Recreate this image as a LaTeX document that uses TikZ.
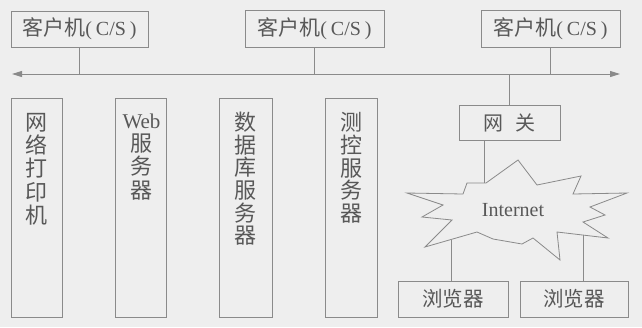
\documentclass[tikz,border=0pt]{standalone}
\usepackage{fontspec}
\setmainfont{Liberation Serif}
\newfontfamily\cjk{Noto Sans CJK SC}
\usetikzlibrary{arrows.meta}
\definecolor{bg}{HTML}{EEEEEE}
\definecolor{ln}{HTML}{8A8A8A}
\definecolor{tx}{HTML}{585858}
\tikzset{
  boxst/.style={draw=ln, line width=0.9pt, inner sep=0pt, text=tx},
  vtext/.style={anchor=north, inner sep=0pt, align=center, text=tx},
  conn/.style={draw=ln, line width=0.9pt},
  clientfont/.style={font=\fontsize{21}{24}\selectfont},
  vfont/.style={font=\cjk\fontsize{22}{23.3}\selectfont},
}
\newcommand{\cs}{{\cjk 客户机}{\fontsize{20}{22}\selectfont(\hspace{4pt}C/S\hspace{4pt})}}
\begin{document}
\begin{tikzpicture}[x=1pt,y=-1pt]
\fill[bg] (0,0) rectangle (642,327);
\useasboundingbox (0,0) rectangle (642,327);
% clients
\node[boxst, clientfont, minimum width=137, minimum height=36] (c1) at (79.5,29) {\cs};
\node[boxst, clientfont, minimum width=139, minimum height=37] (c2) at (314.5,28.5) {\cs};
\node[boxst, clientfont, minimum width=139, minimum height=37] (c3) at (550.5,28.5) {\cs};
% bus
\coordinate (busL) at (12,74);
\coordinate (busR) at (620,74);
\draw[conn, {Triangle[length=10pt,width=6pt]}-{Triangle[length=10pt,width=6pt]}] (busL) -- (busR);
\draw[conn] (c1.south) -- (c1.south |- busL);
\draw[conn] (c2.south) -- (c2.south |- busL);
\draw[conn] (c3.south) -- (c3.south |- busL);
% tall boxes
\node[boxst, minimum width=51, minimum height=219] (p1) at (36.5,207.5) {};
\node[boxst, minimum width=51, minimum height=219] (p2) at (140.5,207.5) {};
\node[boxst, minimum width=53, minimum height=219] (p3) at (245.5,207.5) {};
\node[boxst, minimum width=52, minimum height=219] (p4) at (351,207.5) {};
\node[vtext, vfont] (t1) at (36.5,113) {网\\络\\打\\印\\机};
\node[vtext, font=\fontsize{22}{23.5}\selectfont] (t2) at (141.5,114) {{\fontsize{21}{22}\selectfont Web}\\[-1pt]{\cjk 服}\\{\cjk 务}\\{\cjk 器}};
\node[vtext, vfont, font=\cjk\fontsize{22}{22.6}\selectfont] (t3) at (245.5,112) {数\\据\\库\\服\\务\\器};
\node[vtext, vfont, font=\cjk\fontsize{22}{22.8}\selectfont] (t4) at (351,112) {测\\控\\服\\务\\器};
% gateway
\node[boxst, font=\cjk\fontsize{20}{22}\selectfont, minimum width=101, minimum height=35] (gw) at (509.5,122.5) {网\hspace{12pt}关};
\draw[conn] (gw.north) -- (gw.north |- busL);
% cloud
\draw[ln, line width=0.8pt, fill=bg, line join=miter]
  (407,193) -- (463,194) -- (467,183) -- (486,183) -- (518,160) -- (537,185)
  -- (581,176) -- (573,194) -- (627,193) -- (590,207) -- (605,215) -- (583,222)
  -- (608,238) -- (557,232) -- (560,260) -- (533,238) -- (522,244) -- (493,239)
  -- (477,232) -- (425,247) -- (452,220) -- (422,217) -- (443,205) -- cycle;
\node[text=tx, font=\fontsize{20}{22}\selectfont, inner sep=0pt] (inet) at (513,210) {Internet};
\coordinate (cgw) at (484,183);
\coordinate (cb1) at (451,239.5);
\coordinate (cb2) at (583,235);
\draw[conn] (gw.south -| cgw) -- (cgw);
% browsers
\node[boxst, font=\cjk\fontsize{20.5}{22}\selectfont, minimum width=110, minimum height=36] (b1) at (453,299) {浏览器};
\node[boxst, font=\cjk\fontsize{20.5}{22}\selectfont, minimum width=108, minimum height=36] (b2) at (574,299) {浏览器};
\draw[conn] (cb1) -- (cb1 |- b1.north);
\draw[conn] (cb2) -- (cb2 |- b2.north);
\end{tikzpicture}
\end{document}
